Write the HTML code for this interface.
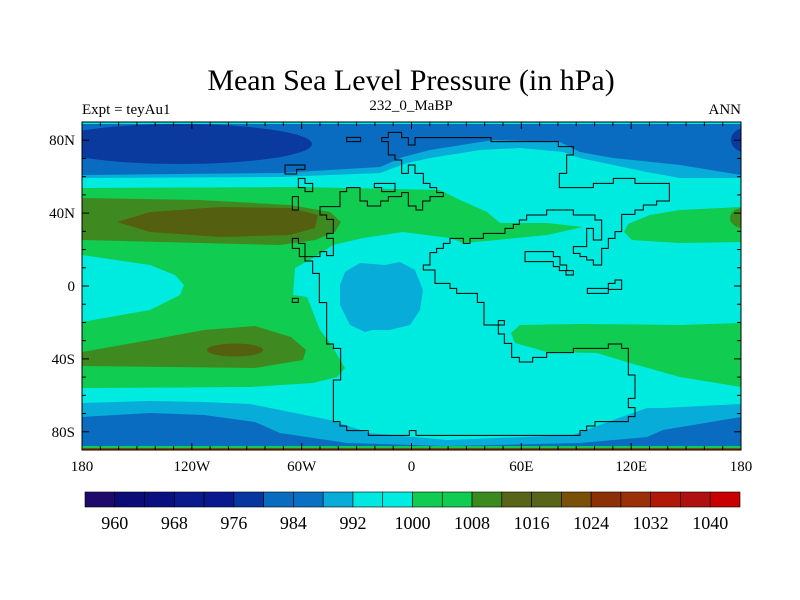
<!DOCTYPE html>
<html><head><meta charset="utf-8"><style>
html,body{margin:0;padding:0;background:#fff;}
svg{display:block;font-family:"Liberation Serif",serif;}
</style></head><body>
<svg width="800" height="600" viewBox="0 0 800 600">
<defs><clipPath id="pc"><rect x="82" y="122" width="659" height="328"/></clipPath></defs>
<text x="411" y="90" text-anchor="middle" font-size="30">Mean Sea Level Pressure (in hPa)</text>
<text x="82" y="114" font-size="15">Expt = teyAu1</text>
<text x="411" y="110" text-anchor="middle" font-size="15">232_0_MaBP</text>
<text x="741" y="114" text-anchor="end" font-size="15">ANN</text>
<g clip-path="url(#pc)">
<rect x="82" y="122" width="659" height="328" fill="#00ebe0"/>
<path fill="#08acd8" d="M82,124 L741,124 L741,178 L680,178 L647,172 L580,158 L563,152 L520,148 L480,150 L430,158 L407,163 L380,173 L280,177 L82,178 Z"/>
<path fill="#0a6cc0" d="M82,124 L741,124 L741,175 L680,165 L613,158 L580,152 L560,142 L493,140 L430,150 L403,157 L380,167 L280,173 L82,175 Z"/>
<ellipse cx="180" cy="144" rx="132" ry="20" fill="#0a3a9e"/>
<ellipse cx="745" cy="140" rx="14" ry="12" fill="#0a3a9e"/>
<rect x="82" y="122" width="659" height="2" fill="#00ebe0"/>
<path fill="#10cc50" d="M82,188 L300,187 L440,190 L460,200 L487,212 L500,223 L547,223 L583,227 L547,235 L497,240 L463,243 L450,238 L403,232 L363,238 L333,245 L313,258 L295,268 L293,295 L307,297 L320,330 L330,343 L345,368 L337,377 L313,383 L250,387 L82,388 Z"/>
<path fill="#00ebe0" d="M82,255 L150,265 L175,275 L184,285 L180,295 L150,310 L82,322 Z"/>
<path fill="#3f8a20" d="M82,198 L200,200 L290,205 L330,212 L341,222 L335,232 L315,240 L280,245 L200,243 L82,240 Z"/>
<path fill="#555f10" d="M117,222 L150,212 L220,207 L290,208 L318,215 L315,228 L290,235 L220,237 L150,232 Z"/>
<path fill="#3f8a20" d="M82,352 L150,340 L204,330 L255,326 L291,337 L306,350 L303,360 L255,368 L82,366 Z"/>
<ellipse cx="235" cy="350" rx="28" ry="6.5" fill="#555f10"/>
<path fill="#10cc50" d="M741,207 L680,210 L650,215 L628,224 L624,232 L632,240 L680,243 L741,242 Z"/>
<ellipse cx="743" cy="218" rx="13" ry="10" fill="#3f8a20"/>
<path fill="#10cc50" d="M741,323 L680,325 L580,324 L520,325 L511,333 L515,343 L547,352 L597,353 L630,363 L680,377 L741,387 Z"/>
<path fill="#08acd8" d="M345,272 L360,263 L385,265 L400,262 L415,270 L423,290 L420,310 L410,325 L390,330 L372,330 L365,332 L350,325 L340,305 L340,285 Z"/>
<path fill="#08acd8" d="M82,403 L150,401 L204,402 L250,404 L280,410 L330,420 L370,433 L447,440 L573,435 L613,420 L647,408 L663,408 L741,404 L741,450 L82,450 Z"/>
<path fill="#0a6cc0" d="M82,417 L150,413 L204,415 L255,422 L280,433 L347,443 L447,446 L580,443 L647,437 L663,430 L741,417 L741,450 L82,450 Z"/>
<rect x="82" y="446" width="659" height="2" fill="#10cc50"/>
<rect x="82" y="448" width="659" height="2" fill="#7a4a10"/>
<g transform="translate(280,125) scale(0.3333333)" fill="none" stroke="#000" stroke-width="1">
<path vector-effect="non-scaling-stroke" d="M305,38 L325,38 L325,22 L365,22 L365,38 L385,38 L385,60 L405,60 L405,38 L633,38 L633,50 L835,50 L835,65 L880,65 L880,90 L860,90 L860,145 L838,145 L838,188 L940,188 L940,175 L1000,175 L1000,160 L1065,160 L1065,175 L1168,175 L1168,228 L1130,228 L1130,240 L1090,240 L1090,255 L1065,255 L1065,268 L1025,268 L1025,320 L1005,320 L1005,340 L985,340 L985,370 L965,370 L965,420 L940,420 L940,405 L920,405 L920,395 L900,395 L900,385 L880,385 L880,365 L920,365 L920,310 L940,310 L940,345 L965,345 L965,285 L945,285 L945,270 L880,270 L880,255 L800,255 L800,270 L740,270 L740,285 L718,285 L718,298 L700,298 L700,310 L675,310 L675,325 L610,325 L610,340 L570,340 L570,355 L550,355 L550,340 L510,340 L510,355 L490,355 L490,370 L470,370 L470,383 L450,383 L450,420 L430,420 L430,435 L465,435 L465,475 L510,475 L510,490 L530,490 L530,505 L592,505 L592,532 L612,532 L612,600 L655,600 L655,587 L673,587 L673,600 L655,600 L655,627 L673,627 L673,655 L695,655 L695,697 L718,697 L718,711 L758,711 L758,697 L800,697 L800,683 L880,683 L880,670 L985,670 L985,657 L1025,657 L1025,670 L1045,670 L1045,750 L1065,750 L1065,820 L1045,820 L1045,848 L1065,848 L1065,875 L1045,875 L1045,890 L945,890 L945,903 L920,903 L920,917 L900,917 L900,931 L408,931 L408,917 L388,917 L388,931 L265,931 L265,917 L200,917 L200,903 L180,903 L180,890 L160,890 L160,765 L182,765 L182,670 L160,670 L160,657 L140,657 L140,533 L118,533 L118,445 L98,445 L98,408 L75,408 L75,355 L55,355 L55,340 L37,340 L37,370 L58,370 L58,395 L120,395 L120,380 L140,380 L140,392 L160,392 L160,340 L140,340 L140,325 L160,325 L160,283 L140,283 L140,270 L120,270 L120,245 L180,245 L180,200 L200,200 L200,188 L240,188 L240,228 L262,228 L262,243 L302,243 L302,228 L325,228 L325,215 L365,215 L365,203 L385,203 L385,243 L408,243 L408,255 L428,255 L428,228 L450,228 L450,215 L490,215 L490,203 L470,203 L470,188 L450,188 L450,175 L430,175 L430,145 L405,145 L405,120 L385,120 L385,145 L365,145 L365,105 L345,105 L345,90 L325,90 L325,50 L305,50 Z"/>
<path vector-effect="non-scaling-stroke" d="M200,37 L242,37 L242,50 L200,50 Z"/>
<path vector-effect="non-scaling-stroke" d="M15,120 L75,120 L75,133 L50,133 L50,147 L15,147 Z"/>
<path vector-effect="non-scaling-stroke" d="M55,160 L75,160 L75,175 L98,175 L98,200 L75,200 L75,188 L55,188 Z"/>
<path vector-effect="non-scaling-stroke" d="M37,215 L55,215 L55,255 L37,255 Z"/>
<path vector-effect="non-scaling-stroke" d="M283,175 L345,175 L345,200 L305,200 L305,188 L283,188 Z"/>
<path vector-effect="non-scaling-stroke" d="M735,380 L820,380 L820,395 L840,395 L840,420 L860,420 L860,437 L880,437 L880,450 L858,450 L858,437 L838,437 L838,425 L820,425 L820,410 L735,410 Z"/>
<path vector-effect="non-scaling-stroke" d="M922,490 L985,490 L985,475 L1005,475 L1005,465 L1025,465 L1025,493 L985,493 L985,505 L922,505 Z"/>
<path vector-effect="non-scaling-stroke" d="M37,520 L55,520 L55,532 L37,532 Z"/>
</g>
</g>
<rect x="82" y="122" width="659" height="328" fill="none" stroke="#000" stroke-width="1"/>
<g id="axes"></g>
<g id="cbar"></g>
<script>
const lonTicks=[-180,-120,-60,0,60,120,180];
const lonLabels=["180","120W","60W","0","60E","120E","180"];
const latTicks=[80,40,0,-40,-80];
const latLabels=["80N","40N","0","40S","80S"];
const cbarColors=["#1e0a6a","#0c0c78","#0a0f80","#0a1a8c","#0a1890","#0836a0","#0a6cbe","#0a70c4","#08acd8","#00e8e0","#00ece0","#10cc50","#10cc50","#3a8a20","#586418","#586418","#7a5008","#8c3008","#9a3008","#b01808","#b01010","#c80000"];
const cbarLabels=[960,968,976,984,992,1000,1008,1016,1024,1032,1040];
const NS="http://www.w3.org/2000/svg";
const X0=82,X1=741,Y0=122,Y1=450;
function xs(lon){return X0+(lon+180)*(X1-X0)/360;}
function ys(lat){return Y0+(90-lat)*(Y1-Y0)/180;}
function mk(tag,attrs,parent){const e=document.createElementNS(NS,tag);for(const k in attrs)e.setAttribute(k,attrs[k]);parent.appendChild(e);return e;}
const ax=document.getElementById('axes');
for(let lon=-180;lon<=180;lon+=10){
  const major=lon%60===0;const L=major?7:4;const x=xs(lon);
  const t1=mk('line',{x1:x,x2:x,y1:Y1,y2:Y1-L,stroke:'#000','stroke-width':1},ax);
  
  
  const t2=mk('line',{x1:x,x2:x,y1:Y0,y2:Y0+L,stroke:'#000','stroke-width':1},ax);
  
  
}
for(let lat=-90;lat<=90;lat+=10){
  const major=lat%40===0;const L=major?7:4;const y=ys(lat);
  const t1=mk('line',{x1:X0,x2:X0+L,y1:y,y2:y,stroke:'#000','stroke-width':1},ax);
  
  
  const t2=mk('line',{x1:X1,x2:X1-L,y1:y,y2:y,stroke:'#000','stroke-width':1},ax);
  
  
}
lonTicks.forEach((v,i)=>{
  const t=mk('text',{x:xs(v),y:471,'text-anchor':'middle','font-size':15},ax);
  t.textContent=lonLabels[i];
  
  
});
latTicks.forEach((v,i)=>{
  const t=mk('text',{x:75,y:ys(v)+5,'text-anchor':'end','font-size':15},ax);
  t.textContent=latLabels[i];
  
  
});
const cb=document.getElementById('cbar');
const CX0=85,CX1=740,CY=492,CH=15;const bw=(CX1-CX0)/cbarColors.length;
cbarColors.forEach((c,i)=>{
  const r=mk('rect',{x:CX0+i*bw,y:CY,width:bw,height:CH,fill:c,stroke:'#000','stroke-width':0.6},cb);
  
  
});
cbarLabels.forEach((v,i)=>{
  const idx=(v-956)/4;
  const t=mk('text',{x:CX0+idx*bw,y:529,'text-anchor':'middle','font-size':18},cb);
  t.textContent=v;
  
  
});
</script>
</svg>
</body></html>
